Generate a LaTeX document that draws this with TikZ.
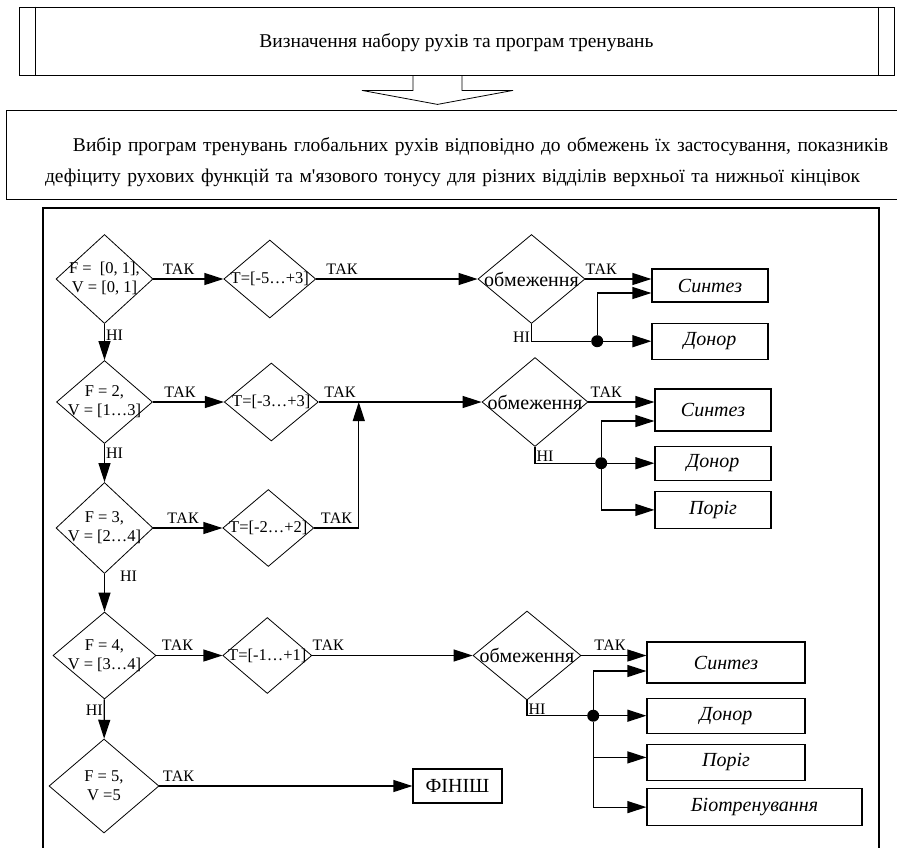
\documentclass[tikz,border=0pt]{standalone}
\usepackage{fontspec}
\setmainfont{Liberation Serif}
\usetikzlibrary{positioning,arrows.meta,shapes.geometric}
\newcommand{\txtsize}{\fontsize{19.5}{31}\selectfont}
\newcommand{\boxsize}{\fontsize{20}{24}\selectfont}
\newcommand{\condsize}{\fontsize{16.5}{19}\selectfont}
\newcommand{\labsize}{\fontsize{16}{18}\selectfont}

\begin{document}
\begin{tikzpicture}[x=1pt, y=-1pt,
  cond/.style={diamond, draw, line width=0.8pt, inner sep=0pt},
  ctext/.style={font=\condsize, align=center, inner sep=0pt},
  box/.style={draw, line width=1.2pt, inner sep=0pt, font=\boxsize\itshape},
  arr/.style={-{Triangle[length=19pt, width=12pt]}, line width=1.2pt},
  lab/.style={font=\labsize, inner sep=1pt},
  dot/.style={circle, fill, inner sep=0pt, minimum size=12pt}]
\useasboundingbox (0,0) rectangle (897,847);
\node[draw, line width=0.8pt, minimum width=875, minimum height=68, inner sep=0pt, font=\txtsize] (goal) at (456.5,41)
  {\rule{0pt}{17pt}Визначення набору рухів та програм тренувань};
\draw[line width=0.8pt] ([xshift=17pt]goal.north west) -- ([xshift=17pt]goal.south west)
  ([xshift=-16pt]goal.north east) -- ([xshift=-16pt]goal.south east);
% block arrow
\draw[line width=0.8pt] ([xshift=-43.5pt]goal.south) -- ++(0,15) -- ++(-51,0) -- ++(75.5,14)
  -- ++(75.5,-14) -- ++(-51,0) -- ++(0,-15);
\node[draw, line width=0.8pt, minimum width=927, minimum height=89, inner sep=0pt, text width=849pt,
  align=left, font=\txtsize] (choice) at (469.5,154.5)
  {\rule{0pt}{30pt}\hspace*{28pt}Вибір програм тренувань глобальних рухів відповідно до обмежень їх застосування, показників\\
   дефіциту рухових функцій та м\textquotesingle язового тонусу для різних відділів верхньої та нижньої кінцівок};
\node[draw, line width=1.6pt, minimum width=836, minimum height=644, inner sep=0pt] (panel) at (461,530) {};

% row 1
\node[cond, minimum width=97, minimum height=89, label={[ctext]center:{F =~~[0, 1],\\V = [0, 1]}}] (d1) at (104.5,279) {};
\node[cond, minimum width=92, minimum height=78, right=70pt of d1, label={[ctext]center:{T=[-5…+3]}}] (t1) {};
\node[cond, minimum width=107, minimum height=89, label={[ctext, font=\boxsize]center:обмеження}] (o1) at (531.5,279) {};
\node[box, minimum width=116, minimum height=33] (s1) at (710,285.5) {Синтез};
\node[box, minimum width=116, minimum height=36, below=20pt of s1] (don1) {Донор};
\node[dot, left=48pt of don1] (dot1) {};
\draw[arr] (d1) -- node[lab, above=3pt, pos=0.36]{ТАК} (t1);
\draw[arr] (t1) -- node[lab, above=3pt, pos=0.16]{ТАК} (o1);
\draw[arr] (o1.east) -- node[lab, above=3pt, pos=0.24]{ТАК} (o1.east -| s1.west);
\draw[arr] (o1.south) |- node[lab, left, pos=0.4]{НІ} (dot1) -- (don1);
\draw[arr] (dot1) |- ([yshift=-7.5pt]s1.west);

% row 2
\node[cond, minimum width=96, minimum height=83, label={[ctext]center:{F = 2,\\V = [1…3]}}] (d2) at (104.5,402) {};
\node[cond, minimum width=94, minimum height=78, right=71pt of d2, label={[ctext]center:{T=[-3…+3]}}] (t2) {};
\node[cond, minimum width=106, minimum height=89, label={[ctext, font=\boxsize]center:обмеження}] (o2) at (535,402) {};
\node[box, minimum width=116, minimum height=42] (s2) at (713,410) {Синтез};
\node[box, minimum width=116, minimum height=34, below=14pt of s2] (don2) {Донор};
\node[box, minimum width=116, minimum height=37, below=10pt of don2] (por2) {Поріг};
\node[dot, left=47pt of don2] (dot2) {};
\draw[arr] (d1) -- node[lab, right, pos=0.3]{НІ} (d2);
\draw[arr] (d2) -- node[lab, above=3pt, pos=0.38]{ТАК} (t2);
\draw[arr] (t2) -- node[lab, above=3pt, pos=0.13]{ТАК} (o2);
\draw[arr] (o2.east) -- node[lab, above=3pt, pos=0.27]{ТАК} (o2.east -| s2.west);
\draw[arr] (o2.south) |- node[lab, right, pos=0.3]{НІ} (dot2) -- (don2);
\draw[arr] (dot2) |- ([yshift=-11pt]s2.west);
\draw[arr] (dot2) |- (por2.west);

% row 3
\node[cond, minimum width=97, minimum height=91, label={[ctext]center:{F = 3,\\V = [2…4]}}] (d3) at (104.5,528) {};
\node[cond, minimum width=91, minimum height=77, right=69pt of d3, label={[ctext]center:{T=[-2…+2]}}] (t3) {};
\path (t2.east) -- (o2.west) coordinate[pos=0.246] (j3);
\draw[arr] (d2) -- node[lab, right, pos=0.25]{НІ} (d3);
\draw[arr] (d3) -- node[lab, above=3pt, pos=0.43]{ТАК} (t3);
\draw[arr] (t3.east) -| node[lab, above=3pt, pos=0.25]{ТАК} (j3);

% row 4
\node[cond, minimum width=103, minimum height=87, label={[ctext]center:{F = 4,\\V = [3…4]}}] (d4) at (104.5,655.5) {};
\node[cond, minimum width=89, minimum height=76, right=66pt of d4, label={[ctext]center:{T=[-1…+1]}}] (t4) {};
\node[cond, minimum width=108, minimum height=89, label={[ctext, font=\boxsize]center:обмеження}] (o4) at (527,655.5) {};
\node[box, minimum width=158, minimum height=41] (s4) at (726,662.5) {Синтез};
\node[box, minimum width=158, minimum height=35, below=14pt of s4] (don4) {Донор};
\node[box, minimum width=158, minimum height=36, below=10pt of don4] (por4) {Поріг};
\node[box, minimum width=215, minimum height=37, below right=7pt and 0pt of por4.south west] (bio4) {Біотренування};
\node[dot, left=47pt of don4] (dot4) {};
\draw[arr] (d3) -- node[lab, right=14pt, pos=0.05]{НІ} (d4);
\draw[arr] (d4) -- node[lab, above=3pt, pos=0.32]{ТАК} (t4);
\draw[arr] (t4) -- node[lab, above=3pt, pos=0.1]{ТАК} (o4);
\draw[arr] (o4.east) -- node[lab, above=3pt, pos=0.44]{ТАК} (o4.east -| s4.west);
\draw[arr] (o4.south) |- node[lab, right, pos=0.3]{НІ} (dot4) -- (don4);
\draw[arr] (dot4) |- ([yshift=-8.5pt]s4.west);
\draw[arr] (dot4) |- ([yshift=5pt]por4.west);
\draw[arr] (dot4) |- (bio4.west);

% row 5
\node[cond, minimum width=110, minimum height=94, label={[ctext]center:{F = 5,\\V =5}}] (d5) at (104,786) {};
\node[draw, line width=1.2pt, minimum width=89, minimum height=34, inner sep=0pt, font=\boxsize] (fin) at (457.5,786) {ФІНІШ};
\draw[arr] (d4) -- node[lab, left, pos=0.28]{НІ} (d5);
\draw[arr] (d5) -- node[lab, above=3pt, pos=0.075]{ТАК} (fin);
\end{tikzpicture}
\end{document}
